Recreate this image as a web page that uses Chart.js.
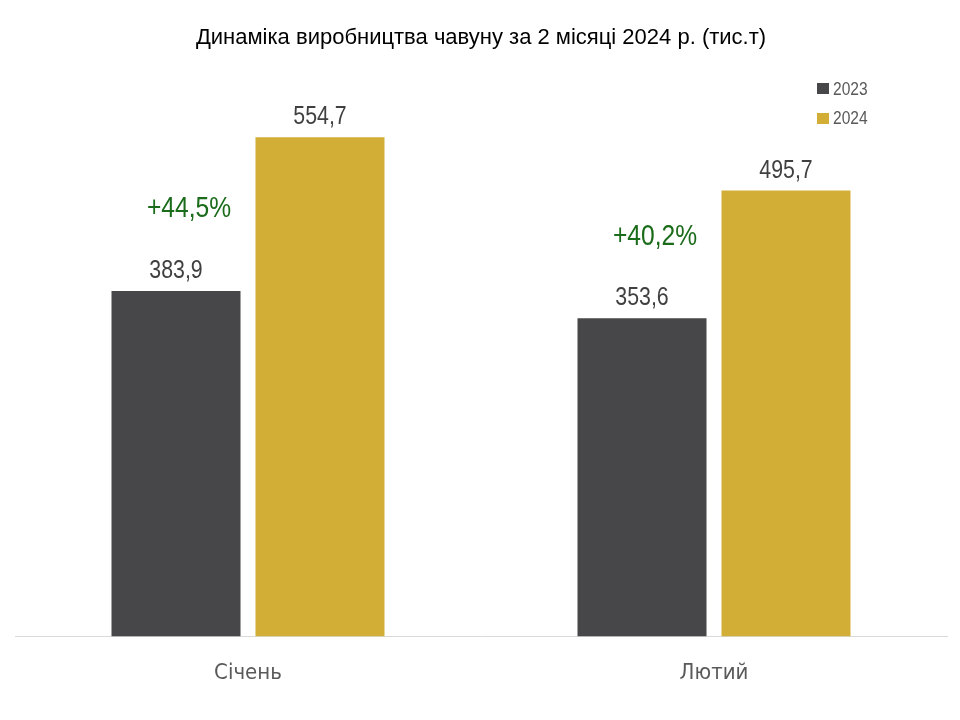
<!DOCTYPE html>
<html>
<head>
<meta charset="utf-8">
<script src="https://cdn.jsdelivr.net/npm/chart.js@4"></script>
<style>
    html, body { margin: 0; padding: 0; background: #fff; }
    #wrap { position: relative; width: 960px; height: 720px; }
    #legend { position: absolute; left: 817px; top: 74px; font-family: 'Liberation Sans', Arial, sans-serif; font-size: 19px; color: #595959; }
    .item { display: flex; align-items: center; height: 29.5px; }
    .box { width: 12px; height: 11px; margin-right: 4px; }
    .txt { display: inline-block; transform: scaleX(0.82); transform-origin: left center; }
</style>
</head>
<body>
<div id="wrap">
    <canvas id="chart" width="960" height="720"></canvas>
    <div id="legend"></div>
</div>
<script>
// Data
const months = ['Січень', 'Лютий'];
const seriesNames = ['2023', '2024'];
const values2023 = [383.9, 353.6];
const values2024 = [554.7, 495.7];
const growthLabels = ['+44,5%', '+40,2%'];
const colors = ['#474749', '#d3ae37'];

const narrow = "'Liberation Sans Narrow', 'Arial Narrow', 'DejaVu Sans Condensed', sans-serif";

// Legend
const legendBox = document.getElementById('legend');
seriesNames.forEach((name, i) => {
    const item = document.createElement('div');
    item.className = 'item';
    item.innerHTML = '<span class="box" style="background:' + colors[i] + '"></span><span class="txt">' + name + '</span>';
    legendBox.appendChild(item);
});

// Narrow text: Arial squeezed like Arial Narrow
function narrowText(ctx, text, x, y, size, color) {
    ctx.save();
    ctx.translate(x, y);
    ctx.scale(0.82, 1);
    ctx.font = size + "px 'Liberation Sans', Arial, sans-serif";
    ctx.fillStyle = color;
    ctx.textAlign = 'center';
    ctx.textBaseline = 'middle';
    ctx.fillText(text, 0, 0);
    ctx.restore();
}

// Value labels + growth labels
const labelsPlugin = {
    id: 'labels',
    afterDatasetsDraw(chart) {
        const ctx = chart.ctx;
        chart.data.datasets.forEach((ds, di) => {
            const meta = chart.getDatasetMeta(di);
            meta.data.forEach((bar, i) => {
                narrowText(ctx, ds.data[i].toFixed(1).replace('.', ','), bar.x, bar.y - 20, 26, '#404040');
            });
        });
        const base = chart.getDatasetMeta(0);
        base.data.forEach((bar, i) => {
            narrowText(ctx, growthLabels[i], bar.x + 13, bar.y - 82, 30, '#1a6b1a');
        });
    }
};

const ctx = document.getElementById('chart').getContext('2d');
new Chart(ctx, {
    type: 'bar',
    data: {
        labels: months,
        datasets: [
            { label: seriesNames[0], data: values2023, backgroundColor: colors[0] },
            { label: seriesNames[1], data: values2024, backgroundColor: colors[1] }
        ]
    },
    options: {
        responsive: false,
        animation: false,
        devicePixelRatio: 1,
        categoryPercentage: 0.618,
        barPercentage: 0.896,
        layout: { padding: { left: 15, right: 13, bottom: 11 } },
        plugins: {
            legend: { display: false },
            tooltip: { enabled: false },
            title: {
                display: true,
                text: 'Динаміка виробництва чавуну за 2 місяці 2024 р. (тис.т)',
                color: '#000',
                font: { family: "'Liberation Sans', Arial, sans-serif", size: 22, weight: 'normal' },
                padding: { top: 25, bottom: 19 }
            }
        },
        scales: {
            x: {
                grid: { display: false, drawTicks: false },
                border: { display: true, color: '#d9d9d9', width: 1 },
                ticks: { color: '#595959', font: { family: narrow, size: 22 }, padding: 23 }
            },
            y: {
                display: false,
                min: 0,
                max: 629
            }
        }
    },
    plugins: [labelsPlugin]
});
</script>
</body>
</html>
